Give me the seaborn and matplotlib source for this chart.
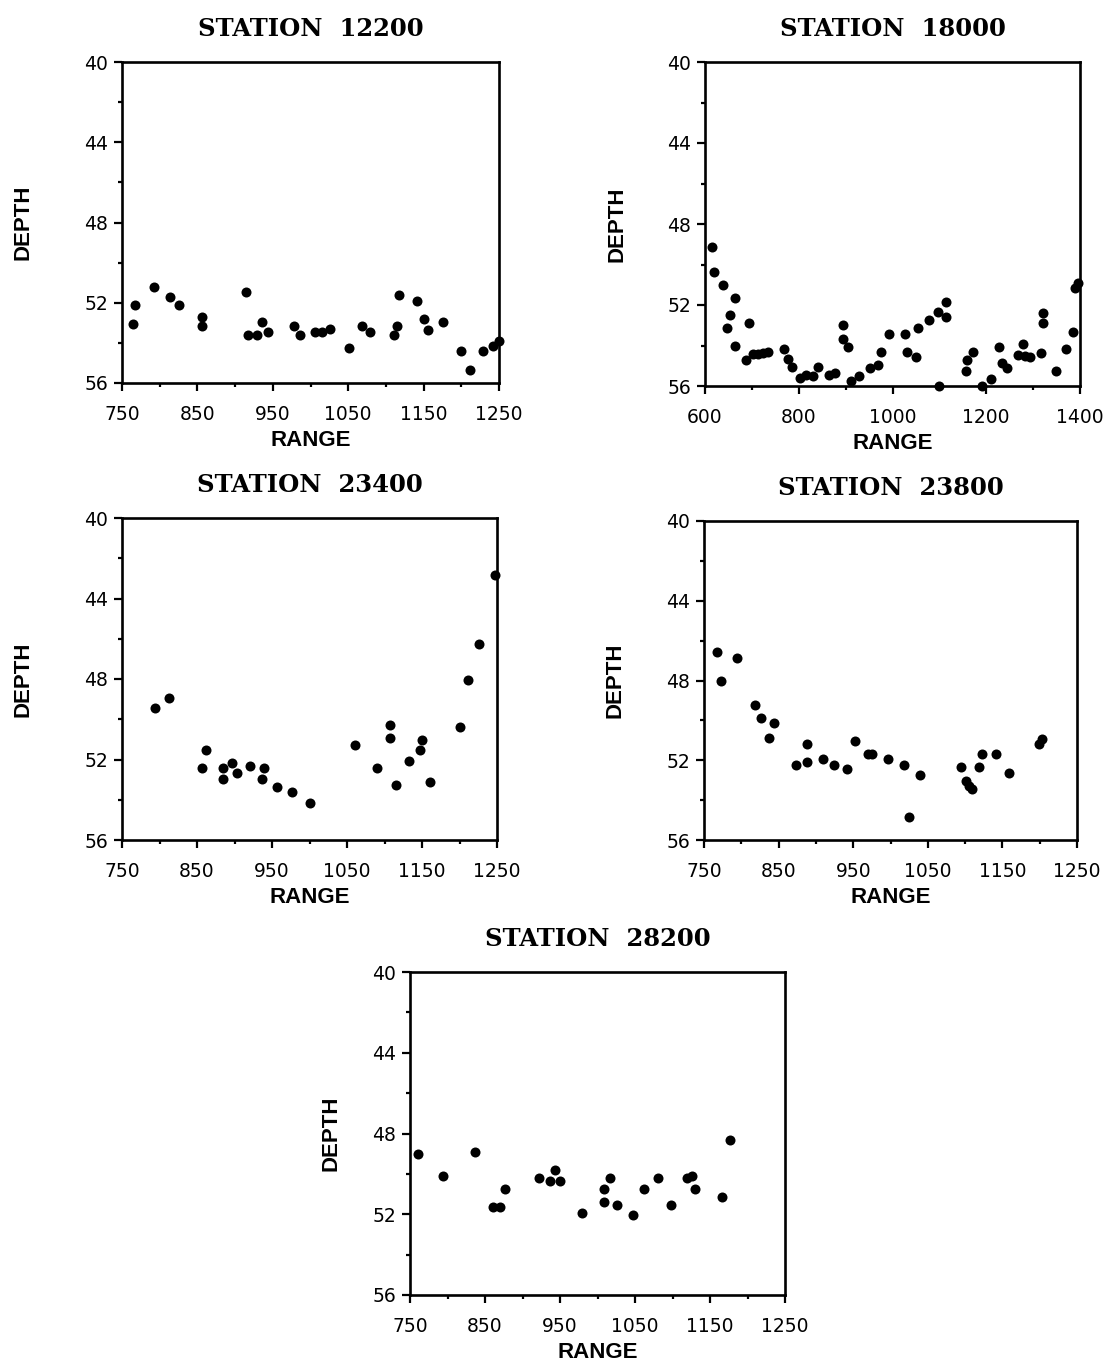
import matplotlib
matplotlib.use("Agg")
import matplotlib.pyplot as plt
import seaborn as sns
import pandas as pd
from matplotlib.ticker import MultipleLocator

# ---------------- data ----------------
r12200 = [764, 767, 793, 814, 825, 856, 856, 914, 917, 929, 936, 943, 978, 986,
          1006, 1015, 1026, 1051, 1068, 1079, 1111, 1115, 1118, 1141, 1150, 1156,
          1176, 1200, 1211, 1229, 1242, 1250]
d12200 = [53.06, 52.1, 51.2, 51.73, 52.1, 52.73, 53.16, 51.47, 53.6, 53.6, 52.95,
          53.47, 53.16, 53.6, 53.47, 53.47, 53.3, 54.27, 53.16, 53.47, 53.6, 53.16,
          51.63, 51.9, 52.81, 53.36, 52.96, 54.4, 55.35, 54.4, 54.16, 53.9]

r18000 = [614, 619, 638, 664, 653, 647, 663, 693, 687, 703, 714, 724, 735, 768,
          778, 785, 802, 815, 830, 842, 865, 877, 894, 894, 906, 911, 929, 952,
          970, 975, 992, 1027, 1031, 1050, 1055, 1078, 1096, 1114, 1114, 1100,
          1158, 1171, 1156, 1190, 1210, 1228, 1233, 1245, 1268, 1279, 1293, 1282,
          1316, 1320, 1320, 1348, 1371, 1384, 1389, 1396]
d18000 = [49.15, 50.36, 51.03, 51.67, 52.48, 53.12, 54.02, 52.87, 54.72, 54.42,
          54.42, 54.39, 54.3, 54.17, 54.68, 55.08, 55.6, 55.47, 55.49, 55.08,
          55.47, 55.34, 53.0, 53.68, 54.06, 55.74, 55.49, 55.1, 54.96, 54.34,
          53.42, 53.42, 54.34, 54.58, 53.12, 52.76, 52.33, 51.85, 52.61, 56.0,
          54.72, 54.32, 55.26, 56.0, 55.64, 54.06, 54.88, 55.13, 54.47, 53.94,
          54.58, 54.5, 54.36, 52.38, 52.9, 55.26, 54.19, 53.32, 51.18, 50.93]

r23400 = [794, 812, 862, 856, 885, 885, 896, 903, 921, 939, 936, 957, 976, 1000,
          1060, 1090, 1107, 1107, 1115, 1132, 1147, 1150, 1161, 1201, 1211, 1226,
          1247]
d23400 = [49.46, 48.93, 51.51, 52.42, 52.42, 52.96, 52.18, 52.69, 52.31, 52.42,
          52.96, 53.35, 53.62, 54.15, 51.28, 52.44, 50.27, 50.93, 53.25, 52.06,
          51.55, 51.03, 53.1, 50.38, 48.06, 46.24, 42.82]

r23800 = [768, 773, 794, 819, 827, 844, 837, 873, 888, 888, 909, 924, 942, 953,
          970, 975, 996, 1018, 1039, 1025, 1094, 1101, 1105, 1109, 1119, 1123,
          1141, 1159, 1199, 1203]
d23800 = [46.57, 48.03, 46.86, 49.22, 49.87, 50.14, 50.9, 52.23, 51.17, 52.11,
          51.94, 52.23, 52.46, 51.02, 51.69, 51.69, 51.96, 52.23, 52.76, 54.87,
          52.34, 53.03, 53.3, 53.45, 52.36, 51.69, 51.69, 52.64, 51.2, 50.94]

r28200 = [760, 794, 836, 876, 861, 870, 922, 936, 943, 950, 979, 1008, 1008, 1016,
          1026, 1047, 1062, 1080, 1098, 1119, 1126, 1130, 1166, 1176]
d28200 = [49.04, 50.1, 48.9, 50.73, 51.64, 51.64, 50.22, 50.35, 49.83, 50.34,
          51.92, 50.73, 51.37, 50.22, 51.52, 52.05, 50.73, 50.22, 51.54, 50.22,
          50.1, 50.73, 51.16, 48.3]

titles = ["STATION  12200", "STATION  18000", "STATION  23400",
          "STATION  23800", "STATION  28200"]
y_ticks = [40, 44, 48, 52, 56]
x_ticks_a = [750, 850, 950, 1050, 1150, 1250]
x_ticks_b = [600, 800, 1000, 1200, 1400]

panels = [
    (titles[0], r12200, d12200, (750, 1250), x_ticks_a, 50),
    (titles[1], r18000, d18000, (600, 1400), x_ticks_b, 100),
    (titles[2], r23400, d23400, (750, 1250), x_ticks_a, 50),
    (titles[3], r23800, d23800, (750, 1250), x_ticks_a, 50),
    (titles[4], r28200, d28200, (750, 1250), x_ticks_a, 50),
]

# axes boxes in pixels: left, right, top, bottom ; ylabel offset
W, H = 1117, 1365
boxes = [
    (122, 499, 62, 383, 88),
    (705, 1080, 62, 386, 77),
    (122, 497, 518, 840, 88),
    (704, 1077, 521, 840, 79),
    (410, 785, 972, 1295, 68),
]

sns.set_style("white")
plt.rcParams["font.family"] = ["DejaVu Sans"]
plt.rcParams["text.color"] = "black"
plt.rcParams["axes.labelcolor"] = "black"
plt.rcParams["xtick.color"] = "black"
plt.rcParams["ytick.color"] = "black"

fig = plt.figure(figsize=(W / 100, H / 100), dpi=100)

for (title, xs, ys, xlim, xt, minor), (l, r, t, b, yoff) in zip(panels, boxes):
    ax = fig.add_axes([l / W, 1 - b / H, (r - l) / W, (b - t) / H])
    df = pd.DataFrame({"RANGE": xs, "DEPTH": ys})
    sns.scatterplot(data=df, x="RANGE", y="DEPTH", ax=ax, color="black",
                    s=52, edgecolor="black", linewidth=0, clip_on=False)
    ax.set_xlim(*xlim)
    ax.set_ylim(56, 40)
    ax.set_xticks(xt)
    ax.xaxis.set_minor_locator(MultipleLocator(minor))
    ax.set_yticks(y_ticks)
    ax.yaxis.set_minor_locator(MultipleLocator(2))
    ax.tick_params(which="major", direction="out", length=6, width=1.6,
                   labelsize=13.5, colors="black", labelcolor="black",
                   bottom=True, left=True)
    ax.tick_params(axis="x", which="major", pad=10)
    ax.tick_params(axis="y", which="major", pad=4)
    ax.tick_params(which="minor", direction="out", length=3, width=1.6,
                   color="black", bottom=True, left=True)
    for sp in ax.spines.values():
        sp.set_visible(True)
        sp.set_linewidth(1.9)
        sp.set_color("black")
    ax.set_xlabel("RANGE", fontsize=16, fontweight="bold",
                  family="Liberation Sans", labelpad=4, color="black")
    ax.set_ylabel("DEPTH", fontsize=16, fontweight="bold",
                  family="Liberation Sans", color="black")
    ax.yaxis.set_label_coords(-yoff / (r - l), 0.5)
    ax.set_title(title, fontsize=17.5, fontweight="bold",
                 family="DejaVu Serif", pad=19, color="black")

fig.savefig("out.png", dpi=100, facecolor="white")
